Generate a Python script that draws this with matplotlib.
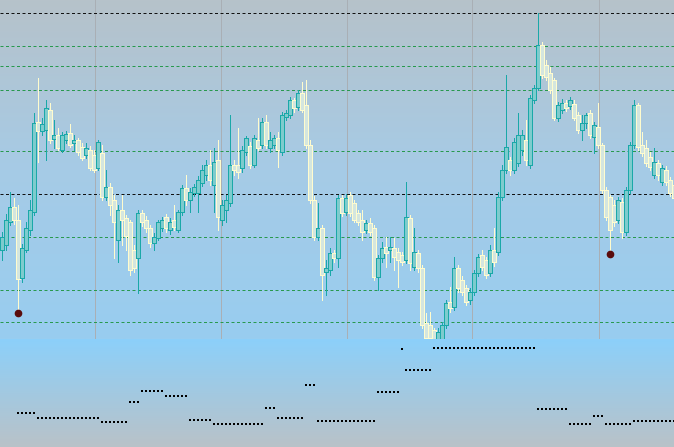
import numpy as np
import matplotlib
matplotlib.use("Agg")
import matplotlib.pyplot as plt
from matplotlib.colors import LinearSegmentedColormap

# candle data (price in points), one candle per bar
opens = [90, 95, 118, 133, 120, 62, 90, 110, 128, 218,
         209, 210, 230, 201, 205, 190, 200, 207, 197, 200,
         193, 185, 190, 185, 172, 187, 143, 153, 140, 100,
         130, 122, 118, 90, 82, 127, 120, 112, 97, 102,
         112, 123, 110, 120, 110, 128, 152, 140, 147, 147,
         157, 165, 175, 155, 180, 120, 130, 137, 175, 175,
         172, 188, 194, 175, 200, 195, 218, 192, 195, 202,
         188, 223, 225, 240, 233, 247, 235, 195, 140, 103,
         112, 68, 70, 87, 82, 142, 128, 145, 137, 127,
         120, 110, 117, 112, 63, 82, 93, 90, 92, 88,
         85, 80, 122, 73, 87, 72, 17, 15, 10, 1,
         0, 15, 38, 33, 72, 60, 52, 40, 48, 67,
         85, 80, 67, 90, 88, 143, 170, 180, 170, 177,
         190, 200, 175, 240, 252, 295, 275, 267, 260, 222,
         230, 237, 234, 236, 225, 210, 217, 227, 203, 213,
         195, 150, 143, 135, 120, 138, 108, 150, 195, 235,
         195, 192, 183, 165, 177, 158, 170, 160, 155]
highs = [108, 126, 148, 142, 135, 96, 118, 140, 227, 262,
         222, 240, 237, 220, 212, 208, 209, 216, 205, 202,
         197, 197, 194, 190, 200, 195, 170, 157, 145, 135,
         145, 125, 120, 95, 130, 130, 124, 115, 107, 120,
         123, 126, 122, 135, 130, 155, 165, 152, 156, 164,
         175, 180, 190, 192, 200, 140, 145, 225, 180, 212,
         194, 204, 198, 205, 222, 222, 225, 208, 205, 208,
         228, 230, 243, 242, 250, 258, 260, 200, 144, 137,
         115, 80, 92, 90, 145, 145, 146, 148, 140, 130,
         130, 120, 122, 115, 85, 98, 103, 103, 102, 92,
         88, 158, 125, 112, 90, 75, 27, 28, 12, 12,
         18, 40, 53, 83, 75, 64, 55, 52, 70, 86,
         90, 83, 95, 112, 148, 175, 265, 183, 202, 227,
         210, 220, 245, 255, 327, 298, 280, 273, 262, 238,
         241, 240, 243, 240, 228, 225, 227, 230, 218, 237,
         197, 153, 145, 140, 143, 142, 153, 198, 240, 237,
         208, 200, 188, 192, 180, 175, 174, 163, 158]
lows = [80, 90, 115, 116, 30, 58, 88, 105, 125, 178,
        205, 180, 197, 192, 190, 188, 197, 193, 190, 185,
        180, 182, 170, 168, 170, 140, 140, 125, 82, 78,
        95, 90, 65, 68, 47, 114, 108, 93, 90, 100,
        109, 108, 106, 110, 108, 125, 135, 128, 144, 128,
        154, 160, 155, 128, 110, 115, 118, 134, 165, 162,
        168, 185, 172, 173, 190, 192, 192, 188, 192, 173,
        185, 220, 222, 228, 230, 228, 192, 137, 100, 100,
        40, 45, 65, 78, 73, 124, 125, 124, 118, 115,
        100, 107, 105, 60, 50, 78, 73, 78, 70, 53,
        75, 77, 70, 70, 68, 12, -1, -1, -2, -2,
        -2, 12, 28, 30, 48, 45, 35, 36, 45, 64,
        70, 62, 64, 74, 85, 140, 167, 165, 167, 174,
        185, 175, 172, 237, 250, 262, 260, 247, 220, 219,
        227, 229, 231, 220, 207, 200, 212, 202, 187, 192,
        147, 120, 90, 114, 117, 102, 105, 147, 192, 190,
        184, 174, 170, 162, 160, 155, 155, 144, 140]
closes = [103, 120, 133, 120, 61, 92, 112, 130, 217, 209,
          216, 232, 200, 205, 192, 205, 206, 195, 200, 188,
          182, 192, 172, 170, 198, 143, 153, 135, 118, 130,
          120, 104, 70, 72, 127, 118, 112, 97, 103, 118,
          120, 112, 118, 113, 128, 152, 140, 148, 153, 160,
          170, 175, 160, 178, 123, 135, 140, 175, 170, 168,
          190, 202, 175, 202, 192, 218, 195, 200, 202, 190,
          225, 227, 240, 232, 247, 230, 195, 140, 103, 112,
          65, 72, 87, 82, 142, 127, 142, 127, 120, 118,
          108, 117, 108, 63, 82, 92, 87, 93, 83, 80,
          78, 123, 77, 88, 72, 15, 2, 2, 0, 8,
          15, 37, 32, 72, 52, 48, 38, 48, 67, 83,
          73, 65, 90, 78, 143, 170, 193, 170, 198, 205,
          205, 180, 242, 252, 295, 265, 263, 250, 222, 235,
          237, 232, 240, 222, 210, 217, 225, 205, 215, 195,
          150, 123, 110, 118, 140, 108, 150, 195, 235, 193,
          187, 177, 173, 178, 165, 172, 158, 147, 142]

# fractal dots (bar index, price)
dot_bars = [4, 152]
dot_prices = [27, 86]

# horizontal levels
black_levels = [327, 146]
green_levels = [294, 274, 250, 189, 103, 50, 18]
# vertical separators (bar positions)
vgrid = [23.25, 54.75, 86.25, 117.5, 149.25]

# lower indicator, one value per bar
nan = np.nan
indicator = ([nan] * 4 + [34] * 5 + [29] * 16 + [25] * 7 + [45] * 3 + [56] * 6
             + [51] * 6 + [27] * 6 + [23] * 13 + [39] * 3 + [29] * 7 + [62] * 3
             + [26] * 15 + [55] * 6 + [98] + [77] * 7 + [99] * 26 + [38] * 8
             + [23] * 6 + [31] * 3 + [23] * 7 + [26] * 11)

n = len(opens)
x = np.arange(n)
o = np.array(opens)
h = np.array(highs)
l = np.array(lows)
c = np.array(closes)
up = c >= o

fig = plt.figure(figsize=(6.74, 4.47), dpi=100)
ax = fig.add_axes([0, 108 / 447, 1, 339 / 447])
ax2 = fig.add_axes([0, 0, 1, 108 / 447])

grad = np.linspace(0, 1, 256).reshape(-1, 1)
cm_top = LinearSegmentedColormap.from_list("top", ["#b6c2ca", "#a6cbe6", "#98cdf0"])
cm_bot = LinearSegmentedColormap.from_list("bot", ["#8cd0fa", "#b9c2c8"])
ax.imshow(grad, extent=[0, 1, 0, 1], transform=ax.transAxes, aspect="auto",
          cmap=cm_top, origin="upper", zorder=0)
ax2.imshow(grad, extent=[0, 1, 0, 1], transform=ax2.transAxes, aspect="auto",
           cmap=cm_bot, origin="upper", zorder=0)

lw = 0.72
for v in vgrid:
    ax.axvline(v, color="#a9afb5", lw=lw, zorder=1)
for lv in green_levels:
    ax.axhline(lv, color="#28994e", lw=lw, dashes=(3, 2.5), zorder=1)
for lv in black_levels:
    ax.axhline(lv, color="#111111", lw=lw, dashes=(3, 2.5), zorder=1)

bull_edge, bull_face = "#1aa8a8", "#7ecbcd"
bear_edge, bear_face = "#fffcce", "#d4e6df"
edges = np.where(up, bull_edge, bear_edge)
faces = np.where(up, bull_face, bear_face)

ax.vlines(x, l, h, colors=edges, lw=lw, zorder=2, antialiased=False)
ax.bar(x, np.maximum(np.abs(c - o), 1), bottom=np.minimum(o, c), width=0.8,
       color=faces, edgecolor=edges, linewidth=lw, zorder=3, antialiased=False)

ax.plot(dot_bars, dot_prices, "o", color="#5a0c0c", markersize=4.5, zorder=4)

ax.set_xlim(-0.5, 168)
ax.set_ylim(1, 340)
ax.axis("off")

ax2.plot(x, indicator, "s", color="black", markersize=1.6, markeredgewidth=0)
ax2.set_xlim(-0.5, 168)
ax2.set_ylim(0, 108)
ax2.axis("off")

fig.savefig("out.png", dpi=100)
